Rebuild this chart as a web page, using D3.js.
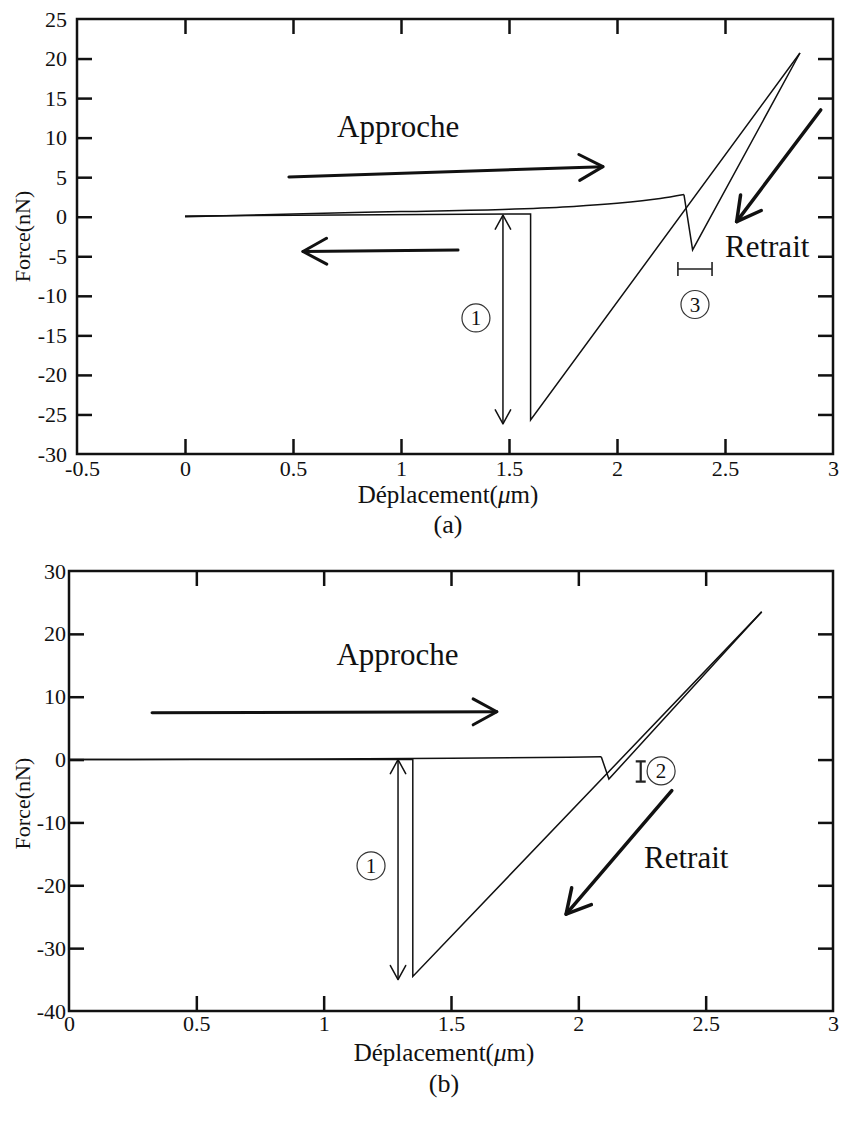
<!DOCTYPE html>
<html>
<head>
<meta charset="utf-8">
<script src="https://cdn.jsdelivr.net/npm/d3@7"></script>
<style>
  body { margin: 0; background: #fff; }
  text { font-family: "Liberation Serif", "Times New Roman", serif; fill: #111; }
</style>
</head>
<body>
<svg id="fig" width="845" height="1121"></svg>
<script>
// ---- panel (a) data : [deplacement (um), force (nN)]
var approachFlatA = [[0, 0], [0.5, 0.35], [1.0, 0.65], [1.5, 0.95], [1.8, 1.3], [2.0, 1.7], [2.2, 2.3], [2.31, 2.8]];
var approachContactA = [[2.31, 2.8], [2.35, -4.2], [2.847, 20.7]];
var retractA  = [[2.847, 20.7], [1.6, -25.7], [1.6, 0.35], [0, 0.1]];
var xTicksA = [-0.5, 0, 0.5, 1, 1.5, 2, 2.5, 3];
var yTicksA = [-30, -25, -20, -15, -10, -5, 0, 5, 10, 15, 20, 25];

// ---- panel (b) data
var approachFlatB = [[0, 0], [0.5, 0.05], [1.0, 0.1], [1.5, 0.2], [2.09, 0.45]];
var approachContactB = [[2.09, 0.45], [2.12, -3.1], [2.72, 23.5]];
var retractB  = [[2.72, 23.5], [1.35, -34.5], [1.35, 0], [0, 0]];
var xTicksB = [0, 0.5, 1, 1.5, 2, 2.5, 3];
var yTicksB = [-40, -30, -20, -10, 0, 10, 20, 30];

// annotations, in data units
var arrowsA = [
    {from: [0.481, 5.03], to: [1.935, 6.33], w: 3},     // approche
    {from: [1.264, -4.2], to: [0.546, -4.39], w: 3},    // retour
    {from: [2.943, 13.5], to: [2.554, -0.62], w: 3.5}   // retrait
];
var arrowsB = [
    {from: [0.326, 7.46], to: [1.68, 7.6], w: 3},
    {from: [2.367, -4.95], to: [1.952, -24.6], w: 3.5}
];

var svg = d3.select('#fig');
svg.append('rect').attr('width', 845).attr('height', 1121).attr('fill', '#fff');

function arrowHead(g, x1, y1, x2, y2, len, w) {
    var a = Math.atan2(y2 - y1, x2 - x1), s = 0.5;
    var p1 = [x2 - len * Math.cos(a - s), y2 - len * Math.sin(a - s)];
    var p2 = [x2 - len * Math.cos(a + s), y2 - len * Math.sin(a + s)];
    g.append('path')
        .attr('d', 'M' + p1 + 'L' + [x2, y2] + 'L' + p2)
        .attr('fill', 'none').attr('stroke', '#111')
        .attr('stroke-width', w).attr('stroke-linecap', 'round').attr('stroke-linejoin', 'round');
}

function drawPanel(cfg) {
    var x = d3.scaleLinear().domain(cfg.xDomain).range([cfg.left, cfg.right]);
    var y = d3.scaleLinear().domain(cfg.yDomain).range([cfg.bottom, cfg.top]);
    var g = svg.append('g');
    var fmt = function(d) { return String(d); };
    var inner = function(t) { return t.filter(function(d) { return d > cfg.xDomain[0] && d < cfg.xDomain[1]; }); };
    var innerY = function(t) { return t.filter(function(d) { return d > cfg.yDomain[0] && d < cfg.yDomain[1]; }); };

    // axes : ticks point inward on all four sides
    var ax = g.append('g').attr('transform', 'translate(0,' + cfg.bottom + ')')
        .call(d3.axisBottom(x).tickValues(cfg.xTicks).tickFormat(fmt).tickSize(-15).tickSizeOuter(0).tickPadding(cfg.xPad));
    ax.selectAll('.tick').filter(function(d) { return d <= cfg.xDomain[0] || d >= cfg.xDomain[1]; }).select('line').remove();
    // the first label sits a little right of the corner
    ax.selectAll('.tick').filter(function(d) { return d < 0; }).select('text').attr('dx', 5);
    var ay = g.append('g').attr('transform', 'translate(' + cfg.left + ',0)')
        .call(d3.axisLeft(y).tickValues(cfg.yTicks).tickFormat(fmt).tickSize(-15).tickSizeOuter(0).tickPadding(cfg.yPad));
    ay.selectAll('.tick').filter(function(d) { return d <= cfg.yDomain[0] || d >= cfg.yDomain[1]; }).select('line').remove();
    g.append('g').attr('transform', 'translate(0,' + cfg.top + ')')
        .call(d3.axisTop(x).tickValues(inner(cfg.xTicks)).tickFormat('').tickSize(-15).tickSizeOuter(0));
    g.append('g').attr('transform', 'translate(' + cfg.right + ',0)')
        .call(d3.axisRight(y).tickValues(innerY(cfg.yTicks)).tickFormat('').tickSize(-15).tickSizeOuter(0));
    g.selectAll('.domain').remove();
    g.selectAll('g').attr('font-family', null);
    g.selectAll('.tick line').attr('stroke', '#111').attr('stroke-width', 2.5);
    g.selectAll('.tick text').attr('font-size', 22).attr('fill', '#111');

    g.append('rect')
        .attr('x', cfg.left).attr('y', cfg.top)
        .attr('width', cfg.right - cfg.left).attr('height', cfg.bottom - cfg.top)
        .attr('fill', 'none').attr('stroke', '#111').attr('stroke-width', 2.5);

    // curves : the free approach is smooth, contact parts are straight
    var smooth = d3.line().curve(d3.curveMonotoneX);
    var straight = d3.line();
    var px = function(s) { return s.map(function(d) { return [x(d[0]), y(d[1])]; }); };
    g.append('path').attr('d', smooth(px(cfg.approachFlat)));
    g.append('path').attr('d', straight(px(cfg.approachContact)));
    g.append('path').attr('d', straight(px(cfg.retract)));
    g.selectAll('path').filter(function() { return !this.getAttribute('fill'); })
        .attr('fill', 'none').attr('stroke', '#111').attr('stroke-width', 1.5);

    // axis titles
    var xt = g.append('text')
        .attr('x', (cfg.left + cfg.right) / 2 + cfg.xTitleDx).attr('y', cfg.xTitleY)
        .attr('text-anchor', 'middle').attr('font-size', 25);
    xt.append('tspan').text('Déplacement(');
    xt.append('tspan').attr('font-style', 'italic').text('μ');
    xt.append('tspan').text('m)');
    g.append('text')
        .attr('transform', 'translate(' + cfg.yTitleX + ',' + y(cfg.yTitleAt) + ') rotate(-90)')
        .attr('text-anchor', 'middle').attr('font-size', 22)
        .text('Force(nN)');
    g.append('text')
        .attr('x', (cfg.left + cfg.right) / 2 + cfg.xTitleDx).attr('y', cfg.capY)
        .attr('text-anchor', 'middle').attr('font-size', 26)
        .text(cfg.caption);

    // big arrows
    cfg.arrows.forEach(function(a) {
        var x1 = x(a.from[0]), y1 = y(a.from[1]), x2 = x(a.to[0]), y2 = y(a.to[1]);
        g.append('line').attr('x1', x1).attr('y1', y1).attr('x2', x2).attr('y2', y2)
            .attr('stroke', '#111').attr('stroke-width', a.w).attr('stroke-linecap', 'round');
        arrowHead(g, x1, y1, x2, y2, 27, a.w);
    });

    // double arrow marking the adhesion jump
    var dx = x(cfg.dbl.x), dy1 = y(cfg.dbl.f[0]), dy2 = y(cfg.dbl.f[1]);
    g.append('line').attr('x1', dx).attr('x2', dx).attr('y1', dy1).attr('y2', dy2)
        .attr('stroke', '#111').attr('stroke-width', 1.5);
    arrowHead(g, dx, dy2, dx, dy1, 16, 1.5);
    arrowHead(g, dx, dy1, dx, dy2, 16, 1.5);

    // circled numbers
    cfg.circles.forEach(function(c) {
        g.append('circle').attr('cx', x(c.at[0])).attr('cy', y(c.at[1])).attr('r', 14)
            .attr('fill', 'none').attr('stroke', '#333').attr('stroke-width', 1.2);
        g.append('text').attr('x', x(c.at[0])).attr('y', y(c.at[1]) + 7)
            .attr('text-anchor', 'middle').attr('font-size', 21).text(c.label);
    });

    // range bracket
    var b = cfg.bracket;
    var bp = b.horizontal
        ? 'M' + [x(b.a), y(b.f) - 7] + 'V' + (y(b.f) + 7) + 'M' + [x(b.a), y(b.f)] + 'H' + x(b.b) + 'M' + [x(b.b), y(b.f) - 7] + 'V' + (y(b.f) + 7)
        : 'M' + [x(b.x) - 5, y(b.a)] + 'H' + (x(b.x) + 5) + 'M' + [x(b.x), y(b.a)] + 'V' + y(b.b) + 'M' + [x(b.x) - 5, y(b.b)] + 'H' + (x(b.x) + 5);
    g.append('path').attr('d', bp).attr('fill', 'none').attr('stroke', '#222').attr('stroke-width', b.horizontal ? 1.6 : 2.2);

    // labels
    g.append('text').attr('x', x(cfg.appText[0])).attr('y', y(cfg.appText[1]))
        .attr('font-size', 31).text('Approche');
    g.append('text').attr('x', x(cfg.retText[0])).attr('y', y(cfg.retText[1]))
        .attr('font-size', 31).text('Retrait');
}

drawPanel({
    left: 77, right: 833, top: 19, bottom: 454,
    xDomain: [-0.5, 3], yDomain: [-30, 25],
    xTicks: xTicksA, yTicks: yTicksA, xPad: 6, yPad: 10,
    approachFlat: approachFlatA, approachContact: approachContactA, retract: retractA,
    xTitleDx: -7, xTitleY: 503, capY: 533, caption: '(a)',
    yTitleX: 30, yTitleAt: -2.5,
    arrows: arrowsA,
    dbl: {x: 1.472, f: [0.2, -26.2]},
    circles: [{at: [1.347, -12.8], label: '1'}, {at: [2.361, -11.1], label: '3'}],
    bracket: {horizontal: true, a: 2.282, b: 2.44, f: -6.6},
    appText: [0.704, 10.1], retText: [2.5, -5.1]
});

drawPanel({
    left: 69, right: 833, top: 571, bottom: 1011,
    xDomain: [0, 3], yDomain: [-40, 30],
    xTicks: xTicksB, yTicks: yTicksB, xPad: 4, yPad: 3,
    approachFlat: approachFlatB, approachContact: approachContactB, retract: retractB,
    xTitleDx: -7, xTitleY: 1061, capY: 1092, caption: '(b)',
    yTitleX: 30, yTitleAt: -7,
    arrows: arrowsB,
    dbl: {x: 1.292, f: [0, -35]},
    circles: [{at: [1.186, -16.9], label: '1'}, {at: [2.325, -1.8], label: '2'}],
    bracket: {horizontal: false, x: 2.245, a: -0.3, b: -3.5},
    appText: [1.05, 15], retText: [2.258, -17.2]
});
</script>
</body>
</html>
